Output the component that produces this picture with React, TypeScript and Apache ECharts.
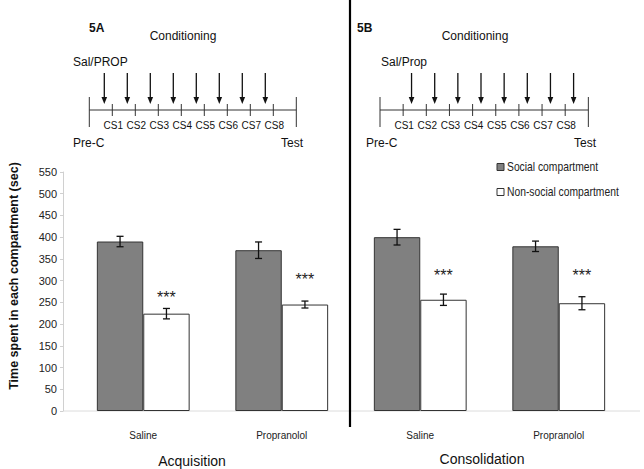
import React, { useEffect, useRef } from "react";
import * as echarts from "echarts";

const categories = ["Saline", "Propranolol", "Saline", "Propranolol"];
const seriesNames = ["Social compartment", "Non-social compartment"];
const seriesColors = ["#808080", "#ffffff"];
const socialMeans = [390, 370, 400, 379];
const socialSem = [12, 19, 18, 12];
const nonSocialMeans = [224, 245, 256, 248];
const nonSocialSem = [12, 8, 13, 15];
const sigMarks = ["***", "***", "***", "***"];
const sigLevels = [271, 312, 321, 321];
const phaseLabels = ["Acquisition", "Consolidation"];
const csLabels = ["CS1", "CS2", "CS3", "CS4", "CS5", "CS6", "CS7", "CS8"];
const panelLabels = ["5A", "5B"];
const drugLabels = ["Sal/PROP", "Sal/Prop"];
const yTitle = "Time spent in each compartment (sec)";
const yMin = 0;
const yMax = 550;
const yStep = 50;

const FONT = '"Liberation Sans", Arial, Helvetica, sans-serif';
const GAP = 0.33;

function timelineGraphics(p: any, i: number) {
  const els: any[] = [];
  const ink = "#111";
  els.push({ type: "text", x: p.labelX, y: 28, style: { text: panelLabels[i], font: `bold 12px ${FONT}`, fill: ink, textAlign: "left", textVerticalAlign: "middle" } });
  els.push({ type: "text", x: p.condX, y: 36, style: { text: "Conditioning", font: `12px ${FONT}`, fill: ink, textAlign: "center", textVerticalAlign: "middle" } });
  els.push({ type: "text", x: p.drugX, y: 62, style: { text: drugLabels[i], font: `12px ${FONT}`, fill: ink, textAlign: "left", textVerticalAlign: "middle" } });
  const x0 = p.x0, step = p.step;
  const x1 = x0 + step * (csLabels.length + 1);
  els.push({ type: "line", shape: { x1: x0, y1: 110, x2: x1, y2: 110 }, style: { stroke: "#333", lineWidth: 1 } });
  els.push({ type: "line", shape: { x1: x0, y1: 97, x2: x0, y2: 127 }, style: { stroke: "#333", lineWidth: 1 } });
  els.push({ type: "line", shape: { x1: x1, y1: 97, x2: x1, y2: 127 }, style: { stroke: "#333", lineWidth: 1 } });
  csLabels.forEach((lab, k) => {
    const tx = x0 + step * (k + 1);
    els.push({ type: "line", shape: { x1: tx, y1: 104, x2: tx, y2: 116 }, style: { stroke: "#333", lineWidth: 1 } });
    els.push({ type: "text", x: tx + 1, y: 125, style: { text: lab, font: `10px ${FONT}`, fill: ink, textAlign: "center", textVerticalAlign: "middle" } });
    const ax = tx + p.arrowOff;
    els.push({ type: "line", shape: { x1: ax, y1: 73, x2: ax, y2: 99 }, style: { stroke: ink, lineWidth: 1.3 } });
    els.push({ type: "polygon", shape: { points: [[ax - 2.8, 97], [ax + 2.8, 97], [ax, 104]] }, style: { fill: ink } });
  });
  els.push({ type: "text", x: p.preX, y: 143, style: { text: "Pre-C", font: `12px ${FONT}`, fill: ink, textAlign: "left", textVerticalAlign: "middle" } });
  els.push({ type: "text", x: p.testX, y: 143, style: { text: "Test", font: `12px ${FONT}`, fill: ink, textAlign: "right", textVerticalAlign: "middle" } });
  return els;
}

export default function App() {
  const ref = useRef<HTMLDivElement>(null);
  useEffect(() => {
    document.body.style.margin = "0";
    const chart = echarts.init(ref.current!, null, { renderer: "svg" });

    const errData: any[] = [];
    categories.forEach((_, i) => {
      errData.push([i, socialMeans[i], socialSem[i], -1]);
      errData.push([i, nonSocialMeans[i], nonSocialSem[i], 1]);
    });
    const sigData = categories.map((_, i) => [i, sigLevels[i]]);

    const panels = [
      { labelX: 89, condX: 183, drugX: 73, x0: 89.3, step: 23, arrowOff: -8, preX: 73, testX: 303 },
      { labelX: 357, condX: 475, drugX: 381, x0: 380, step: 23.15, arrowOff: 8.4, preX: 366, testX: 596 },
    ];
    const graphics: any[] = [];
    panels.forEach((p, i) => graphics.push(...timelineGraphics(p, i)));
    graphics.push({ type: "line", z: 10, shape: { x1: 350, y1: 0, x2: 350, y2: 427 }, style: { stroke: "#000", lineWidth: 2.2 } });
    graphics.push({ type: "line", z: -1, shape: { x1: 63, y1: 411, x2: 640, y2: 411 }, style: { stroke: "#dcdcdc", lineWidth: 1 } });
    graphics.push({ type: "text", x: 14, y: 276, rotation: Math.PI / 2, style: { text: yTitle, font: `bold 12.5px ${FONT}`, fill: "#111", textAlign: "center", textVerticalAlign: "middle" } });
    const phaseX = [192, 482];
    const phaseY = [461, 459];
    phaseLabels.forEach((t, i) => {
      graphics.push({ type: "text", x: phaseX[i], y: phaseY[i], style: { text: t, font: `14px ${FONT}`, fill: "#111", textAlign: "center", textVerticalAlign: "middle" } });
    });
    // legend
    const legendY = [167, 192];
    seriesNames.forEach((name, i) => {
      graphics.push({ type: "rect", shape: { x: 497, y: legendY[i] - 3.5, width: 7, height: 7 }, style: { fill: seriesColors[i], stroke: "#333", lineWidth: 1 } });
      graphics.push({ type: "text", x: 507, y: legendY[i], scaleX: 0.86, style: { text: name, font: `12px ${FONT}`, fill: "#222", textAlign: "left", textVerticalAlign: "middle" } });
    });

    chart.setOption({
      animation: false,
      backgroundColor: "#fff",
      textStyle: { fontFamily: FONT },
      grid: { left: 74, right: 16, top: 172, bottom: 58 },
      xAxis: {
        type: "category",
        data: categories,
        axisLine: { show: false },
        axisTick: { show: false },
        axisLabel: { fontSize: 10, color: "#222", margin: 19 },
      },
      yAxis: {
        type: "value",
        min: yMin,
        max: yMax,
        interval: yStep,
        offset: 11,
        splitLine: { show: false },
        axisLine: { show: true, lineStyle: { color: "#d0d0d0" } },
        axisTick: { show: true, length: 3, lineStyle: { color: "#d0d0d0" } },
        axisLabel: { fontSize: 11, color: "#222", margin: 6 },
      },
      series: [
        {
          name: seriesNames[0],
          type: "bar",
          data: socialMeans,
          barGap: "0%",
          barCategoryGap: GAP * 100 + "%",
          itemStyle: { color: seriesColors[0], borderColor: "#333", borderWidth: 1 },
        },
        {
          name: seriesNames[1],
          type: "bar",
          data: nonSocialMeans,
          barGap: "0%",
          barCategoryGap: GAP * 100 + "%",
          itemStyle: { color: seriesColors[1], borderColor: "#333", borderWidth: 1 },
        },
        {
          type: "custom",
          name: "err",
          data: errData,
          z: 5,
          silent: true,
          renderItem: (params: any, api: any) => {
            const ci = api.value(0), m = api.value(1), e = api.value(2), side = api.value(3);
            const band = api.size([1, 0])[0];
            const bw = (band * (1 - GAP)) / 2;
            const c = api.coord([ci, m]);
            const x = c[0] + (side * bw) / 2;
            const top = api.coord([ci, m + e])[1];
            const bot = api.coord([ci, m - e])[1];
            const cap = 3.5;
            const st = { stroke: "#111", lineWidth: 1.3 };
            return {
              type: "group",
              children: [
                { type: "line", shape: { x1: x, y1: top, x2: x, y2: bot }, style: st },
                { type: "line", shape: { x1: x - cap, y1: top, x2: x + cap, y2: top }, style: st },
                { type: "line", shape: { x1: x - cap, y1: bot, x2: x + cap, y2: bot }, style: st },
              ],
            };
          },
        },
        {
          type: "custom",
          name: "sig",
          data: sigData,
          z: 5,
          silent: true,
          renderItem: (params: any, api: any) => {
            const ci = api.value(0), v = api.value(1);
            const band = api.size([1, 0])[0];
            const bw = (band * (1 - GAP)) / 2;
            const c = api.coord([ci, v]);
            const fs = 16;
            return {
              type: "text",
              x: c[0] + bw / 2,
              y: c[1] + fs * 0.28,
              style: { text: sigMarks[params.dataIndex], font: `${fs}px ${FONT}`, fill: "#222", textAlign: "center", textVerticalAlign: "middle" },
            };
          },
        },
      ],
      graphic: graphics,
    });
    return () => chart.dispose();
  }, []);
  return <div ref={ref} style={{ width: 644, height: 469 }} />;
}
